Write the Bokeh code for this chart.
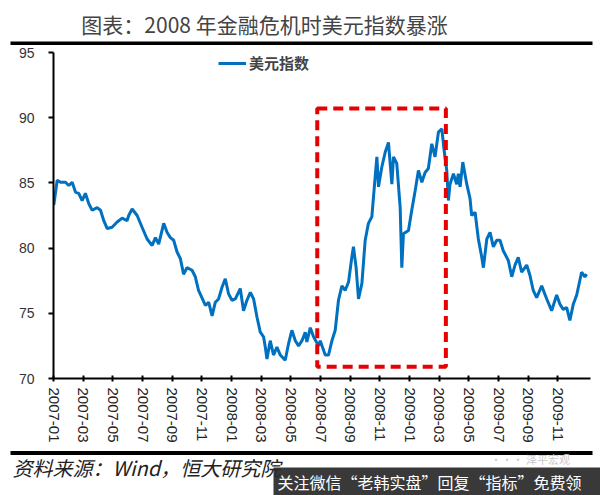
from bokeh.plotting import figure
from bokeh.models import FixedTicker, BoxAnnotation, Range1d
from bokeh.layouts import column
from bokeh.core.properties import value
from bokeh.embed import file_html
from bokeh.resources import INLINE

title_text = "图表：2008 年金融危机时美元指数暴涨"
series_name = "美元指数"
source_text = "资料来源：Wind，恒大研究院"
watermark_text = "关注微信“老韩实盘”回复“指标”免费领"
brand_text = "··· 泽平宏观"

# x = months since 2007-01
tick_positions = list(range(0, 36, 2))
tick_labels = ["2007-01", "2007-03", "2007-05", "2007-07", "2007-09", "2007-11",
               "2008-01", "2008-03", "2008-05", "2008-07", "2008-09", "2008-11",
               "2009-01", "2009-03", "2009-05", "2009-07", "2009-09", "2009-11"]

months = [0.02, 0.25, 0.47, 0.81, 1.03, 1.26, 1.48, 1.70, 1.93, 2.15, 2.38, 2.61, 2.94, 3.17,
          3.39, 3.62, 3.95, 4.29, 4.63, 4.96, 5.07, 5.30, 5.64, 5.97, 6.31, 6.65, 6.87, 7.09,
          7.43, 7.66, 7.88, 8.10, 8.33, 8.55, 8.77, 9.00, 9.34, 9.56, 9.78, 10.24, 10.46, 10.69,
          10.91, 11.13, 11.36, 11.58, 11.80, 12.03, 12.26, 12.59, 12.81, 13.04, 13.27, 13.49,
          13.72, 13.94, 14.16, 14.28, 14.39, 14.61, 14.83, 15.06, 15.29, 15.62, 15.85, 16.07,
          16.30, 16.52, 16.75, 16.97, 17.08, 17.31, 17.53, 17.87, 17.98, 18.32, 18.54, 18.77,
          18.99, 19.21, 19.44, 19.66, 19.89, 20.11, 20.22, 20.40, 20.56, 20.79, 21.01, 21.23,
          21.46, 21.68, 21.80, 21.91, 22.13, 22.36, 22.58, 22.81, 22.92, 23.14, 23.37, 23.48,
          23.59, 23.93, 24.15, 24.38, 24.60, 24.83, 25.05, 25.27, 25.50, 25.72, 25.95, 26.18,
          26.33, 26.51, 26.62, 26.73, 26.96, 27.18, 27.29, 27.41, 27.59, 27.86, 28.08, 28.19,
          28.42, 28.64, 28.87, 28.98, 29.21, 29.43, 29.65, 29.88, 30.10, 30.32, 30.66, 30.89,
          31.11, 31.33, 31.56, 31.90, 32.12, 32.34, 32.57, 32.91, 33.25, 33.58, 33.92, 34.14,
          34.36, 34.59, 34.81, 35.04, 35.27, 35.60, 35.82, 35.94]

dollar_index = [83.3, 85.2, 85.05, 85.05, 84.8, 85.05, 84.3, 84.2, 83.65, 84.2, 83.4, 82.9, 83.1, 82.9,
                82.1, 81.5, 81.6, 82.0, 82.3, 82.1, 82.5, 83.0, 82.5, 81.6, 80.7, 80.2, 80.8, 80.3,
                81.9, 81.2, 80.8, 80.6, 79.7, 79.2, 78.0, 78.5, 78.3, 77.8, 76.75, 75.6, 75.85, 74.8,
                75.85, 76.1, 77.0, 77.65, 76.5, 76.0, 76.1, 76.9, 75.2, 76.0, 76.6, 76.1,
                74.7, 73.55, 73.2, 72.4, 71.5, 72.9, 71.8, 72.4, 71.8, 71.4, 72.7, 73.7,
                72.9, 72.5, 72.9, 73.55, 72.8, 73.9, 73.2, 72.5, 72.9, 71.8, 71.8, 72.9,
                73.7, 76.0, 77.1, 76.75, 77.4, 79.3, 80.1, 78.5, 76.1, 77.3, 80.6, 81.9,
                82.4, 85.4, 87.0, 84.7, 86.2, 87.35, 88.1, 84.9, 87.0, 86.5, 83.1, 78.5,
                81.1, 81.35, 82.9, 84.4, 85.95, 85.05, 85.8, 86.1, 88.0, 87.0, 88.9, 89.15,
                87.5, 85.95, 83.65, 84.9, 85.7, 84.9, 85.7, 84.7, 86.6, 84.9, 83.8, 82.5,
                82.75, 80.7, 79.3, 78.5, 80.7, 81.2, 80.1, 80.6, 80.6, 79.8, 79.05, 77.8,
                78.7, 79.3, 78.15, 78.7, 77.9, 76.75, 76.2, 77.1, 76.1, 75.2, 76.4, 75.7,
                75.3, 75.45, 74.45, 75.7, 76.4, 78.15, 77.8, 78.0]

# highlighted crisis window (late 2008-06 .. mid 2009-03), in chart units
box_left, box_right, box_bottom, box_top = 17.78, 26.45, 70.9, 90.7

y_ticks = [70, 75, 80, 85, 90, 95]

W = 600
CJK = "Noto Sans CJK SC"
HEAD_H, MAIN_H, FOOT_H = 45, 405, 45


def blank(height):
    fig = figure(width=W, height=height, output_backend="svg", toolbar_location=None,
                 x_range=Range1d(0, W), y_range=Range1d(height, 0),
                 x_axis_location=None, y_axis_location=None, frame_align=False,
                 min_border=0, min_border_left=0, min_border_right=0,
                 min_border_top=0, min_border_bottom=0)
    fig.outline_line_color = None
    fig.xgrid.visible = False
    fig.ygrid.visible = False
    return fig


# ---------- header ----------
h = blank(HEAD_H)
h.text(x=[264], y=[23], text=[title_text], text_font=value(CJK), text_font_size=value("21px"),
       text_color="#444444", text_align="center", text_baseline="middle")
h.line(x=[10, 592], y=[43, 43], line_color="black", line_width=4)

# ---------- main chart ----------
p = figure(width=W, height=MAIN_H, output_backend="svg", toolbar_location=None,
           x_range=Range1d(0, 36.2), y_range=Range1d(70, 95), frame_align=False,
           min_border_left=53, min_border_right=10, min_border_top=7, min_border_bottom=72)
p.outline_line_color = None
p.xgrid.visible = False
p.ygrid.visible = False

p.line(months, dollar_index, line_color="#0070C0", line_width=3, legend_label=series_name)

p.add_layout(BoxAnnotation(left=box_left, right=box_right, bottom=box_bottom, top=box_top,
                           fill_alpha=0, line_color="#E60000", line_alpha=1,
                           line_width=4, line_dash="10 6"))

p.yaxis.ticker = FixedTicker(ticks=y_ticks)
p.yaxis.axis_line_width = 2
p.yaxis.axis_line_color = "black"
p.yaxis.major_tick_line_width = 2
p.yaxis.major_tick_out = 5
p.yaxis.major_tick_in = 0
p.yaxis.minor_tick_line_color = None
p.yaxis.major_label_text_font = "Liberation Sans"
p.yaxis.major_label_text_font_size = "14px"
p.yaxis.major_label_text_color = "#333333"
p.yaxis.major_label_standoff = 14

p.xaxis.ticker = FixedTicker(ticks=tick_positions)
p.xaxis.major_label_overrides = {pos: lab for pos, lab in zip(tick_positions, tick_labels)}
p.xaxis.major_label_orientation = "vertical"
p.xaxis.axis_line_width = 2
p.xaxis.axis_line_color = "black"
p.xaxis.major_tick_line_width = 2
p.xaxis.major_tick_out = 3
p.xaxis.major_tick_in = 3
p.xaxis.minor_tick_line_color = None
p.xaxis.major_label_text_font = "Liberation Sans"
p.xaxis.major_label_text_font_size = "15px"
p.xaxis.major_label_text_color = "#222222"
p.xaxis.major_label_standoff = 6

p.legend.location = (165, 305)
p.legend.border_line_color = None
p.legend.background_fill_alpha = 0
p.legend.label_text_font = CJK
p.legend.label_text_font_style = "bold"
p.legend.label_text_font_size = "15px"
p.legend.glyph_width = 28
p.legend.padding = 0
p.legend.margin = 0
p.legend.label_standoff = 3

# ---------- footer ----------
f = blank(FOOT_H)
f.line(x=[10, 592], y=[2.5, 2.5], line_color="black", line_width=4)
f.text(x=[12], y=[17], text=[source_text], text_font=value(CJK), text_font_size=value("20px"),
       text_font_style="italic", text_color="#222222", text_align="left", text_baseline="middle")
f.text(x=[490], y=[8], text=[brand_text], text_font=value(CJK), text_font_size=value("11px"),
       text_color="#c8c8c8", text_align="left", text_baseline="middle")
f.quad(left=[273], right=[600], top=[17], bottom=[45], fill_color="#2a2a2a", fill_alpha=0.93,
       line_color=None)
f.text(x=[277], y=[31], text=[watermark_text], text_font=value(CJK), text_font_size=value("16px"),
       text_color="white", text_align="left", text_baseline="middle")

layout = column(h, p, f, spacing=0)
open("out.html", "w").write(file_html(layout, INLINE))
